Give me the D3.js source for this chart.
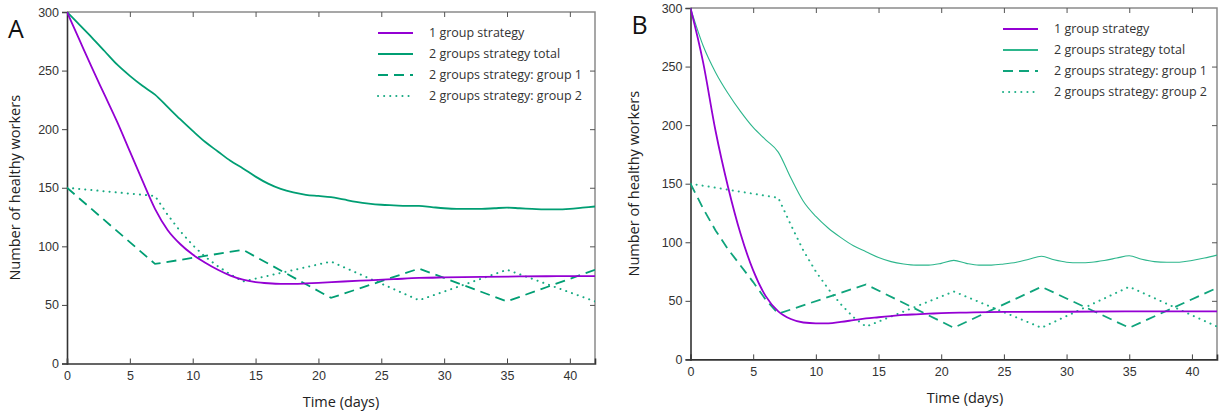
<!DOCTYPE html>
<html>
<head>
<meta charset="utf-8">
<script src="https://cdn.jsdelivr.net/npm/d3@7"></script>
<style>
  body { margin: 0; background: #fff; }
  svg { display: block; font-family: 'Open Sans', sans-serif; }
  .tick-label { fill: #333; font-size: 12.5px; }
  .axis-title { fill: #222; font-size: 14.5px; }
  .legend-label { fill: #333; font-size: 12.5px; }
  .panel-label { fill: #111; font-size: 25px; }
</style>
</head>
<body>
<svg id="chart" width="1219" height="417"></svg>
<script>
// ---- Panel A data ----
const aOneGroupDays = [0,1,2,3,4,5,6,7,8,9,10,11,12,13,14,15,16,17,18,19,20,22,24,26,28,30,33,36,39,42];
const aOneGroup = [300,276,252,229,206,181,156,132,114,102,93,86,80,75,71.5,69.5,68.5,68,68,68.3,68.8,70,71,72,73,73.5,74,74.3,74.5,74.5];
const aTotalDays = [0,1,2,3,4,5,6,7,8,9,10,11,12,13,14,15,16,17,18,19,20,21,22,23,24,25,26,27,28,29,30,31,32,33,34,35,36,37,38,39,40,41,42];
const aTotal = [300,289,278,266.5,255,245.5,237,229.5,219,208.5,198.5,189,181,173,166.5,159.5,153.5,149,146,144,143,142,140,138,136.5,135.5,135,134.5,134.5,133.5,132.5,132,132,132,132.5,133,132.5,132,131.5,131.5,132,133,134];
const aGroup1Days = [0,7,14,21,28,35,42];
const aGroup1 = [150,85,97,56,81,53,80];
const aGroup2Days = [0,7,8,9,10,11,12,13,14,21,28,35,42];
const aGroup2 = [150,143,127,113,101,91,83,76,70,87,54,80,53];

// ---- Panel B data ----
const bOneGroupDays = [0,1,2,3,4,5,6,7,8,9,10,11,12,13,14,15,16,17,18,19,20,22,25,30,36,42];
const bOneGroup = [300,254,195,147,107,76,54,41,34.5,31.5,30.8,30.8,32,33.5,35,36,37,38,38.5,39,39.5,40,40.5,40.7,41,41];
const bTotalDays = aTotalDays;
const bTotal = [300,268,245,227,211.5,198,187.5,177,155,135,122,112,104,97,92,87,83.5,81.5,80.5,80.5,82,84.5,82,80.5,80.5,81.5,83,85.5,88,85,83,82.5,83,84.5,86.5,88.5,85.5,83.5,83,83,84.5,86.5,89];
const bGroup1Days = [0,1,2,3,4,5,6,7,14,21,28,35,42];
const bGroup1 = [150,129,110,94,80,66,51,39,64,27,62,27,61];
const bGroup2Days = [0,7,8,9,10,11,12,13,14,21,28,35,42];
const bGroup2 = [150,138,115,93,75,60,47,36,28,58,27,62,28];

const seriesNames = ['1 group strategy', '2 groups strategy total', '2 groups strategy: group 1', '2 groups strategy: group 2'];
const xTicks = [0,5,10,15,20,25,30,35,40];
const yTicks = [0,50,100,150,200,250,300];

class LinePanel {
  constructor(_config, _series) {
    this.config = {
      svg: _config.svg,
      label: _config.label,
      left: _config.left,
      top: _config.top,
      width: _config.width,
      height: _config.height,
      legendX: _config.legendX,
      legendY: _config.legendY,
      legendStep: 21,
      yTitleX: _config.yTitleX,
      xTitleX: _config.xTitleX,
      xTitleY: _config.xTitleY
    };
    this.series = _series;
    this.initVis();
  }

  initVis() {
    let vis = this;
    const c = vis.config;

    vis.xScale = d3.scaleLinear().domain([0, 42]).range([0, c.width]);
    vis.yScale = d3.scaleLinear().domain([0, 300]).range([c.height, 0]);

    vis.chart = c.svg.append('g')
      .attr('transform', `translate(${c.left},${c.top})`);

    // frame: top and right in grey
    vis.chart.append('path')
      .attr('d', `M0,0H${c.width}V${c.height}`)
      .attr('fill', 'none')
      .attr('stroke', '#8a8a8a')
      .attr('stroke-width', 1.5);

    // left axis, ticks outside
    const yAxis = vis.chart.append('g')
      .call(d3.axisLeft(vis.yScale).tickValues(yTicks).tickSize(5).tickPadding(3));
    // bottom axis, ticks inside
    const xAxis = vis.chart.append('g')
      .attr('transform', `translate(0,${c.height})`)
      .call(d3.axisBottom(vis.xScale).tickValues(xTicks).tickSize(-5).tickPadding(8));
    [yAxis, xAxis].forEach(ax => {
      ax.select('.domain').attr('stroke', '#333').attr('stroke-width', 1.6);
      ax.selectAll('.tick line').attr('stroke', '#444');
      ax.selectAll('.tick text').attr('class', 'tick-label').attr('font-family', null).attr('font-size', null);
    });

    // mirror ticks on top and right
    vis.chart.append('g')
      .call(d3.axisTop(vis.xScale).tickValues(xTicks.slice(1)).tickSize(-5).tickFormat(''))
      .call(g => g.select('.domain').remove())
      .selectAll('.tick line').attr('stroke', '#555');
    vis.chart.append('g')
      .attr('transform', `translate(${c.width},0)`)
      .call(d3.axisRight(vis.yScale).tickValues(yTicks.slice(1, -1)).tickSize(-5).tickFormat(''))
      .call(g => g.select('.domain').remove())
      .selectAll('.tick line').attr('stroke', '#555');

    // titles
    c.svg.append('text')
      .attr('class', 'axis-title')
      .attr('text-anchor', 'middle')
      .attr('x', c.xTitleX)
      .attr('y', c.xTitleY)
      .text('Time (days)');
    c.svg.append('text')
      .attr('class', 'axis-title')
      .attr('text-anchor', 'middle')
      .attr('transform', `translate(${c.yTitleX},${c.top + c.height / 2}) rotate(-90)`)
      .text('Number of healthy workers');
    c.svg.append('text')
      .attr('class', 'panel-label')
      .attr('x', c.left - 59)
      .attr('y', c.top + 26)
      .text(c.label);

    vis.chart.append('clipPath')
      .attr('id', 'clip-' + c.label)
      .append('rect')
      .attr('width', c.width)
      .attr('height', c.height);

    vis.legend = vis.chart.append('g')
      .attr('transform', `translate(${c.legendX - c.left},${c.legendY - c.top})`);

    vis.renderVis();
  }

  renderVis() {
    let vis = this;
    const c = vis.config;

    const line = d3.line()
      .x(d => vis.xScale(d[0]))
      .y(d => vis.yScale(d[1]));

    vis.chart.append('g')
      .attr('clip-path', `url(#clip-${c.label})`)
      .selectAll('.series')
      .data(vis.series.slice().reverse())
      .join('path')
      .attr('class', 'series')
      .attr('fill', 'none')
      .attr('stroke', d => d.color)
      .attr('stroke-width', d => d.width)
      .attr('stroke-dasharray', d => d.dash)
      .attr('stroke-linecap', d => d.cap)
      .attr('d', d => line.curve(d.smooth ? d3.curveMonotoneX : d3.curveLinear)(d.days.map((t, i) => [t, d.values[i]])));

    const rows = vis.legend.selectAll('.legend-row')
      .data(vis.series)
      .join('g')
      .attr('class', 'legend-row')
      .attr('transform', (d, i) => `translate(0,${i * c.legendStep})`);
    rows.append('line')
      .attr('x1', 0).attr('x2', 35)
      .attr('stroke', d => d.color)
      .attr('stroke-width', d => d.width < 1.5 ? 2 : d.width)
      .attr('stroke-dasharray', d => d.dash)
      .attr('stroke-linecap', d => d.cap);
    rows.append('text')
      .attr('class', 'legend-label')
      .attr('x', 51)
      .attr('dy', '.35em')
      .text(d => d.name);
  }
}

const svg = d3.select('#chart');

new LinePanel({
  svg: svg, label: 'A', left: 67, top: 12, width: 528, height: 351.5,
  legendX: 378, legendY: 33, yTitleX: 20, xTitleX: 341, xTitleY: 407
}, [
  { name: seriesNames[0], days: aOneGroupDays, values: aOneGroup, color: '#9400d3', width: 1.8, dash: null, cap: 'butt', smooth: true },
  { name: seriesNames[1], days: aTotalDays, values: aTotal, color: '#009e73', width: 1.8, dash: null, cap: 'butt', smooth: true },
  { name: seriesNames[2], days: aGroup1Days, values: aGroup1, color: '#009e73', width: 1.8, dash: '10,6', cap: 'butt', smooth: false },
  { name: seriesNames[3], days: aGroup2Days, values: aGroup2, color: '#16a982', width: 2, dash: '0.1,6', cap: 'round', smooth: false }
]);

new LinePanel({
  svg: svg, label: 'B', left: 690.5, top: 8, width: 526.5, height: 351.4,
  legendX: 1003, legendY: 29, yTitleX: 639, xTitleX: 965, xTitleY: 403
}, [
  { name: seriesNames[0], days: bOneGroupDays, values: bOneGroup, color: '#9400d3', width: 1.8, dash: null, cap: 'butt', smooth: true },
  { name: seriesNames[1], days: bTotalDays, values: bTotal, color: '#2db68c', width: 1.1, dash: null, cap: 'butt', smooth: true },
  { name: seriesNames[2], days: bGroup1Days, values: bGroup1, color: '#10a47c', width: 1.8, dash: '10,6', cap: 'butt', smooth: false },
  { name: seriesNames[3], days: bGroup2Days, values: bGroup2, color: '#1fb088', width: 2, dash: '0.1,6', cap: 'round', smooth: false }
]);
</script>
</body>
</html>
